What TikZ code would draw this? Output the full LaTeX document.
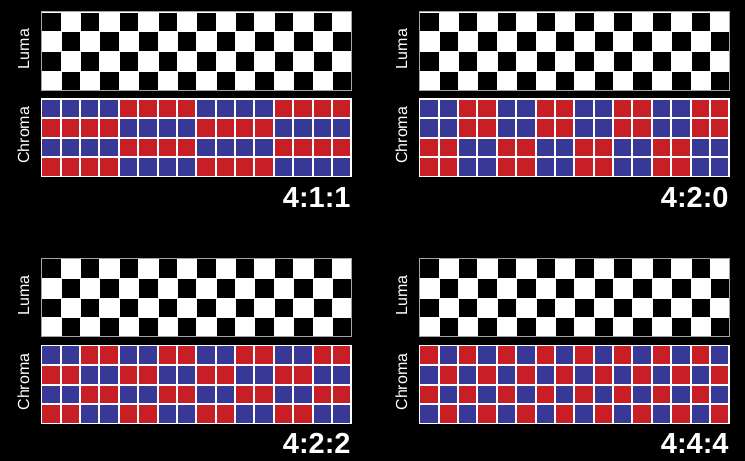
\documentclass[tikz,border=0pt]{standalone}
\usepackage{fontspec}
\setmainfont{Liberation Sans}
\definecolor{cblue}{RGB}{56,56,150}
\definecolor{cred}{RGB}{200,30,38}
\definecolor{lumaborder}{RGB}{165,165,165}
\tikzset{
  sidelbl/.style={text=white, font=\fontsize{16bp}{18bp}\selectfont, rotate=90, anchor=base, inner sep=0pt},
  ratiolbl/.style={text=white, font=\fontsize{29bp}{32bp}\selectfont\bfseries, anchor=base east, inner sep=0pt},
}
% #1 x0, #2 y0, #3 column group, #4 row group, #5 offset, #6 label, #7 name prefix
\newcommand\sspanel[7]{%
\begin{scope}[shift={(#1,#2)}]
  % luma
  \fill[white] (0,0) rectangle (310,78.5);
  \foreach \r in {0,...,3}{%
    \foreach \c in {0,...,15}{%
      \pgfmathtruncatemacro\kk{mod(\c+\r,2)}%
      \ifnum\kk=0
        \fill[black] ({\c*19.375+1},{\r*19.625+1}) rectangle ({(\c+1)*19.375},{(\r+1)*19.625});
      \fi
    }}
  \draw[lumaborder, line width=1bp] (0,0) rectangle (310,78.5);
  % chroma
  \fill[white] (-0.5,86.5) rectangle (310.5,165.8);
  \foreach \r in {0,...,3}{%
    \foreach \c in {0,...,15}{%
      \pgfmathtruncatemacro\kk{mod(floor(\c/#3)+floor(\r/#4)+#5,2)}%
      \ifnum\kk=0 \def\cc{cblue}\else \def\cc{cred}\fi
      \fill[\cc] ({\c*19.375+1},{87+\r*19.575+1}) rectangle ({(\c+1)*19.375-1},{87+(\r+1)*19.575-1});
    }}
  \node[sidelbl] (#7luma) at (-12.3,37.3) {Luma};
  \node[sidelbl] (#7chroma) at (-12.3,123.6) {Chroma};
  \node[ratiolbl] (#7ratio) at (309.5,195.5) {#6};
\end{scope}}
\begin{document}
\begin{tikzpicture}[x=1bp,y=-1bp]
\fill[black] (0,0) rectangle (745,461);
\useasboundingbox (0,0) rectangle (745,461);
\sspanel{41.3}{11.7}{4}{1}{0}{4:1:1}{a}
\sspanel{419.3}{11.7}{2}{2}{0}{4:2:0}{b}
\sspanel{41.3}{258.4}{2}{1}{0}{4:2:2}{c}
\sspanel{419.3}{258.4}{1}{1}{1}{4:4:4}{d}
\end{tikzpicture}
\end{document}
